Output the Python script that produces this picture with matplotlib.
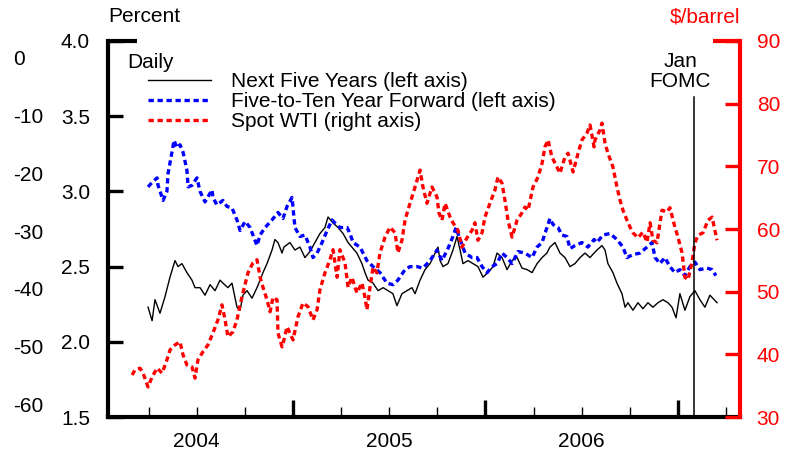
import numpy as np
import matplotlib
matplotlib.use("Agg")
import matplotlib.pyplot as plt

plt.rcParams["font.family"] = ["Liberation Sans", "DejaVu Sans"]
plt.rcParams["font.size"] = 15

# decimal years, values
next5_t = [2004.247, 2004.268, 2004.283, 2004.309, 2004.335, 2004.361, 2004.387, 2004.403,
           2004.423, 2004.449, 2004.475, 2004.491, 2004.517, 2004.543, 2004.569, 2004.595,
           2004.621, 2004.636, 2004.662, 2004.683, 2004.709, 2004.725, 2004.740, 2004.761,
           2004.787, 2004.813, 2004.829, 2004.844, 2004.865, 2004.891, 2004.906, 2004.922,
           2004.943, 2004.953, 2004.984, 2005.010, 2005.036, 2005.062, 2005.088, 2005.114,
           2005.140, 2005.166, 2005.182, 2005.208, 2005.234, 2005.260, 2005.286, 2005.312,
           2005.332, 2005.358, 2005.374, 2005.390, 2005.416, 2005.442, 2005.468, 2005.494,
           2005.519, 2005.540, 2005.566, 2005.592, 2005.618, 2005.634, 2005.660, 2005.686,
           2005.712, 2005.738, 2005.753, 2005.764, 2005.779, 2005.805, 2005.831, 2005.852,
           2005.868, 2005.883, 2005.909, 2005.935, 2005.961, 2005.987, 2006.013, 2006.039,
           2006.060, 2006.086, 2006.112, 2006.138, 2006.164, 2006.190, 2006.216, 2006.242,
           2006.268, 2006.294, 2006.319, 2006.335, 2006.361, 2006.387, 2006.413, 2006.439,
           2006.465, 2006.491, 2006.517, 2006.543, 2006.564, 2006.579, 2006.605, 2006.621,
           2006.636, 2006.662, 2006.683, 2006.709, 2006.725, 2006.740, 2006.766, 2006.792,
           2006.818, 2006.844, 2006.870, 2006.896, 2006.922, 2006.948, 2006.969, 2006.990,
           2007.010, 2007.036, 2007.062, 2007.088, 2007.114, 2007.140, 2007.166, 2007.203]
next5_v = [2.23, 2.14, 2.28, 2.19, 2.30, 2.43, 2.54, 2.50,
           2.52, 2.46, 2.41, 2.36, 2.36, 2.31, 2.38, 2.34,
           2.41, 2.39, 2.36, 2.39, 2.23, 2.21, 2.31, 2.34,
           2.29, 2.36, 2.41, 2.46, 2.52, 2.61, 2.68, 2.66,
           2.59, 2.63, 2.66, 2.61, 2.63, 2.56, 2.60, 2.66,
           2.72, 2.76, 2.83, 2.79, 2.76, 2.72, 2.66, 2.62,
           2.59, 2.52, 2.46, 2.41, 2.39, 2.34, 2.36, 2.34,
           2.32, 2.24, 2.32, 2.34, 2.36, 2.32, 2.41, 2.48,
           2.52, 2.59, 2.63, 2.54, 2.50, 2.52, 2.61, 2.70,
           2.61, 2.52, 2.54, 2.52, 2.50, 2.43, 2.46, 2.50,
           2.59, 2.56, 2.48, 2.54, 2.56, 2.49, 2.48, 2.46,
           2.52, 2.56, 2.59, 2.63, 2.66, 2.59, 2.56, 2.50,
           2.52, 2.56, 2.59, 2.56, 2.59, 2.61, 2.64, 2.61,
           2.52, 2.46, 2.39, 2.32, 2.23, 2.26, 2.21, 2.26,
           2.22, 2.26, 2.23, 2.26, 2.28, 2.26, 2.23, 2.16,
           2.32, 2.21, 2.30, 2.34, 2.28, 2.23, 2.31, 2.26]

fwd_t = [2004.247, 2004.268, 2004.294, 2004.299, 2004.325, 2004.345, 2004.351, 2004.371,
         2004.382, 2004.397, 2004.413, 2004.429, 2004.449, 2004.455, 2004.475, 2004.501,
         2004.517, 2004.543, 2004.579, 2004.584, 2004.605, 2004.636, 2004.657, 2004.683,
         2004.709, 2004.725, 2004.751, 2004.777, 2004.813, 2004.829, 2004.855, 2004.891,
         2004.922, 2004.948, 2004.969, 2004.995, 2005.010, 2005.036, 2005.062, 2005.088,
         2005.104, 2005.125, 2005.151, 2005.177, 2005.203, 2005.218, 2005.244, 2005.281,
         2005.296, 2005.312, 2005.348, 2005.384, 2005.416, 2005.452, 2005.488, 2005.519,
         2005.545, 2005.582, 2005.608, 2005.644, 2005.675, 2005.712, 2005.748, 2005.774,
         2005.805, 2005.831, 2005.847, 2005.857, 2005.894, 2005.930, 2005.956, 2005.982,
         2006.008, 2006.034, 2006.060, 2006.086, 2006.112, 2006.138, 2006.169, 2006.205,
         2006.242, 2006.268, 2006.294, 2006.309, 2006.335, 2006.351, 2006.377, 2006.397,
         2006.423, 2006.439, 2006.465, 2006.501, 2006.532, 2006.564, 2006.579, 2006.610,
         2006.647, 2006.683, 2006.714, 2006.735, 2006.766, 2006.803, 2006.839, 2006.865,
         2006.881, 2006.906, 2006.932, 2006.958, 2006.984, 2007.010, 2007.036, 2007.062,
         2007.088, 2007.114, 2007.151, 2007.177, 2007.197]
fwd_v = [3.03, 3.06, 3.09, 3.04, 2.94, 3.00, 3.12, 3.26,
         3.34, 3.29, 3.31, 3.26, 3.14, 3.03, 3.04, 3.09,
         3.00, 2.93, 3.01, 2.96, 2.91, 2.94, 2.90, 2.89,
         2.81, 2.74, 2.80, 2.76, 2.64, 2.71, 2.76, 2.81,
         2.86, 2.82, 2.90, 2.96, 2.76, 2.70, 2.71, 2.63,
         2.56, 2.59, 2.66, 2.74, 2.81, 2.79, 2.76, 2.76,
         2.72, 2.66, 2.63, 2.54, 2.50, 2.46, 2.39, 2.38,
         2.41, 2.48, 2.50, 2.50, 2.49, 2.54, 2.61, 2.54,
         2.62, 2.70, 2.76, 2.72, 2.59, 2.56, 2.56, 2.50,
         2.46, 2.50, 2.52, 2.59, 2.56, 2.52, 2.60, 2.59,
         2.56, 2.63, 2.66, 2.72, 2.82, 2.78, 2.76, 2.71,
         2.70, 2.62, 2.64, 2.66, 2.63, 2.68, 2.66, 2.71,
         2.72, 2.68, 2.63, 2.56, 2.58, 2.59, 2.63, 2.66,
         2.56, 2.52, 2.56, 2.50, 2.46, 2.48, 2.44, 2.50,
         2.53, 2.48, 2.49, 2.48, 2.44]

wti_t = [2004.164, 2004.179, 2004.205, 2004.221, 2004.247, 2004.268, 2004.294, 2004.320,
         2004.345, 2004.361, 2004.387, 2004.413, 2004.429, 2004.449, 2004.475, 2004.491,
         2004.506, 2004.532, 2004.558, 2004.584, 2004.610, 2004.631, 2004.647, 2004.662,
         2004.688, 2004.709, 2004.725, 2004.740, 2004.766, 2004.792, 2004.813, 2004.829,
         2004.844, 2004.865, 2004.881, 2004.896, 2004.917, 2004.922, 2004.943, 2004.953,
         2004.969, 2004.984, 2005.000, 2005.026, 2005.052, 2005.078, 2005.104, 2005.125,
         2005.140, 2005.166, 2005.192, 2005.208, 2005.229, 2005.244, 2005.270, 2005.286,
         2005.306, 2005.332, 2005.358, 2005.374, 2005.384, 2005.400, 2005.416, 2005.436,
         2005.452, 2005.478, 2005.504, 2005.530, 2005.545, 2005.566, 2005.582, 2005.597,
         2005.618, 2005.634, 2005.660, 2005.675, 2005.696, 2005.722, 2005.748, 2005.758,
         2005.774, 2005.790, 2005.816, 2005.831, 2005.857, 2005.878, 2005.904, 2005.930,
         2005.945, 2005.961, 2005.982, 2005.997, 2006.023, 2006.049, 2006.065, 2006.086,
         2006.101, 2006.117, 2006.138, 2006.164, 2006.190, 2006.205, 2006.221, 2006.247,
         2006.273, 2006.294, 2006.309, 2006.325, 2006.345, 2006.371, 2006.387, 2006.413,
         2006.429, 2006.455, 2006.481, 2006.501, 2006.527, 2006.543, 2006.564, 2006.569,
         2006.595, 2006.605, 2006.621, 2006.636, 2006.662, 2006.683, 2006.699, 2006.714,
         2006.735, 2006.751, 2006.766, 2006.792, 2006.818, 2006.839, 2006.855, 2006.870,
         2006.891, 2006.917, 2006.943, 2006.958, 2006.984, 2007.000, 2007.021, 2007.036,
         2007.052, 2007.073, 2007.088, 2007.104, 2007.130, 2007.156, 2007.177, 2007.192,
         2007.203]
wti_v = [36.7, 37.5, 37.8, 37.0, 34.8, 36.4, 37.8, 37.0,
         39.1, 40.7, 41.5, 42.0, 39.9, 38.3, 38.0, 36.2,
         39.1, 40.4, 41.5, 43.4, 45.5, 47.9, 45.5, 42.8,
         43.6, 45.5, 47.9, 49.8, 53.0, 54.6, 55.1, 52.3,
         50.7, 48.7, 46.8, 49.1, 48.7, 43.4, 41.2, 42.3,
         44.4, 43.4, 42.3, 46.0, 48.2, 47.6, 45.5, 47.1,
         50.3, 53.0, 55.1, 56.7, 52.3, 56.7, 54.6, 50.7,
         52.3, 49.8, 51.4, 49.1, 47.1, 50.7, 53.9, 53.0,
         56.2, 58.7, 60.3, 59.4, 56.2, 58.2, 61.4, 63.0,
         65.1, 66.7, 69.4, 66.7, 64.1, 66.7, 65.1, 62.6,
         61.4, 64.1, 61.9, 61.0, 59.8, 57.1, 58.6, 59.8,
         61.0, 58.2, 59.4, 61.9, 64.1, 66.2, 68.3, 67.3,
         64.6, 61.4, 58.7, 61.4, 62.6, 63.5, 63.0, 66.7,
         68.3, 70.5, 73.1, 74.2, 71.5, 69.9, 68.9, 71.5,
         72.1, 69.1, 72.1, 74.2, 75.3, 76.6, 73.1, 74.2,
         75.8, 76.9, 73.7, 72.1, 69.9, 66.7, 64.6, 63.0,
         61.4, 60.3, 59.4, 58.6, 59.5, 57.9, 61.0, 58.2,
         57.8, 63.0, 62.7, 63.4, 60.3, 58.7, 56.2, 52.3,
         51.9, 54.7, 57.8, 59.0, 59.4, 61.4, 61.9, 59.8,
         58.2]

fomc_date = 2007.082
quarters = np.arange(2004.25, 2007.3, 0.25)
year_edges = [2005, 2006, 2007]
year_mid = [2004.5, 2005.5, 2006.5]
year_labels = ["2004", "2005", "2006"]
ghost_ticks = [0, -10, -20, -30, -40, -50, -60]

fig = plt.figure(figsize=(7.96, 4.5), dpi=100)
ax = fig.add_axes([0.1357, 0.0733, 0.7939, 0.8356])
ax2 = ax.twinx()
ax3 = ax.twinx()

l1, = ax.plot(next5_t, next5_v, color="black", lw=1.0)
l2, = ax.plot(fwd_t, fwd_v, color="blue", lw=2.4, linestyle=(0, (1.6, 1.1)))
l3, = ax2.plot(wti_t, wti_v, color="red", lw=2.4, linestyle=(0, (1.6, 1.1)))

ax.set_xlim(2004.039, 2007.322)
ax.set_ylim(1.5, 4.0)
ax2.set_ylim(30, 90)

# left axis
ax.set_yticks(np.arange(1.5, 4.01, 0.5))
ax.set_yticklabels([f"{v:.1f}" for v in np.arange(1.5, 4.01, 0.5)])
ax.tick_params(axis="y", direction="in", length=11, width=2.4, pad=13, labelsize=15)
for s in ["top", "right"]:
    ax.spines[s].set_visible(False)
ax.spines["left"].set_linewidth(3)
ax.spines["bottom"].set_linewidth(3)
ax.plot([0, 0.046], [1, 1], transform=ax.transAxes, color="black", lw=3,
        clip_on=False, solid_capstyle="butt")

# bottom axis
ax.set_xticks(year_edges)
ax.set_xticklabels([])
ax.set_xticks(quarters, minor=True)
ax.tick_params(axis="x", which="major", direction="in", length=12, width=2.4)
ax.tick_params(axis="x", which="minor", direction="in", length=7, width=1.0)
sec = ax.secondary_xaxis("bottom")
sec.set_xticks(year_mid)
sec.set_xticklabels(year_labels)
sec.tick_params(length=0, pad=11, labelsize=15)
sec.spines["bottom"].set_visible(False)

# right axis
ax2.set_yticks(np.arange(30, 91, 10))
ax2.tick_params(axis="y", direction="in", length=11, width=2.4, pad=12,
                colors="red", labelsize=15)
for s in ["top", "left", "bottom"]:
    ax2.spines[s].set_visible(False)
ax2.spines["right"].set_color("red")
ax2.spines["right"].set_linewidth(3)
ax2.plot([1 - 0.043, 1], [1, 1], transform=ax2.transAxes, color="red", lw=3,
         clip_on=False, solid_capstyle="butt")

# leftover axis labels on the far left
ax3.set_ylim(-62.16, 2.85)
ax3.yaxis.set_ticks_position("left")
ax3.set_yticks(ghost_ticks)
ax3.set_yticklabels([str(v) for v in ghost_ticks])
ax3.spines["left"].set_position(("outward", 68.4))
for s in ax3.spines.values():
    s.set_visible(False)
ax3.tick_params(axis="y", length=0, pad=0, labelsize=15)
for lbl in ax3.get_yticklabels():
    lbl.set_horizontalalignment("left")

# FOMC marker
ax2.axvline(fomc_date, ymin=0, ymax=0.851, color="black", lw=1.1)
ax2.text(fomc_date - 0.07, 0.918, "Jan\nFOMC", transform=ax2.get_xaxis_transform(),
         ha="center", va="center", multialignment="center", fontsize=15, linespacing=1.05)

ax.text(0.0, 1.064, "Percent", transform=ax.transAxes, ha="left", va="center", fontsize=15)
ax2.text(1.0, 1.064, "$/barrel", transform=ax2.transAxes, ha="right", va="center",
         fontsize=15, color="red")
ax2.text(0.030, 0.944, "Daily", transform=ax2.transAxes, ha="left", va="center", fontsize=15)

ax2.legend([l1, l2, l3],
           ["Next Five Years (left axis)", "Five-to-Ten Year Forward (left axis)",
            "Spot WTI (right axis)"],
           loc="upper left", bbox_to_anchor=(0.0633, 0.918), frameon=False,
           borderpad=0, borderaxespad=0, handlelength=3.0, handletextpad=1.0,
           labelspacing=0.05, fontsize=15)

fig.savefig("out.png", dpi=100)
